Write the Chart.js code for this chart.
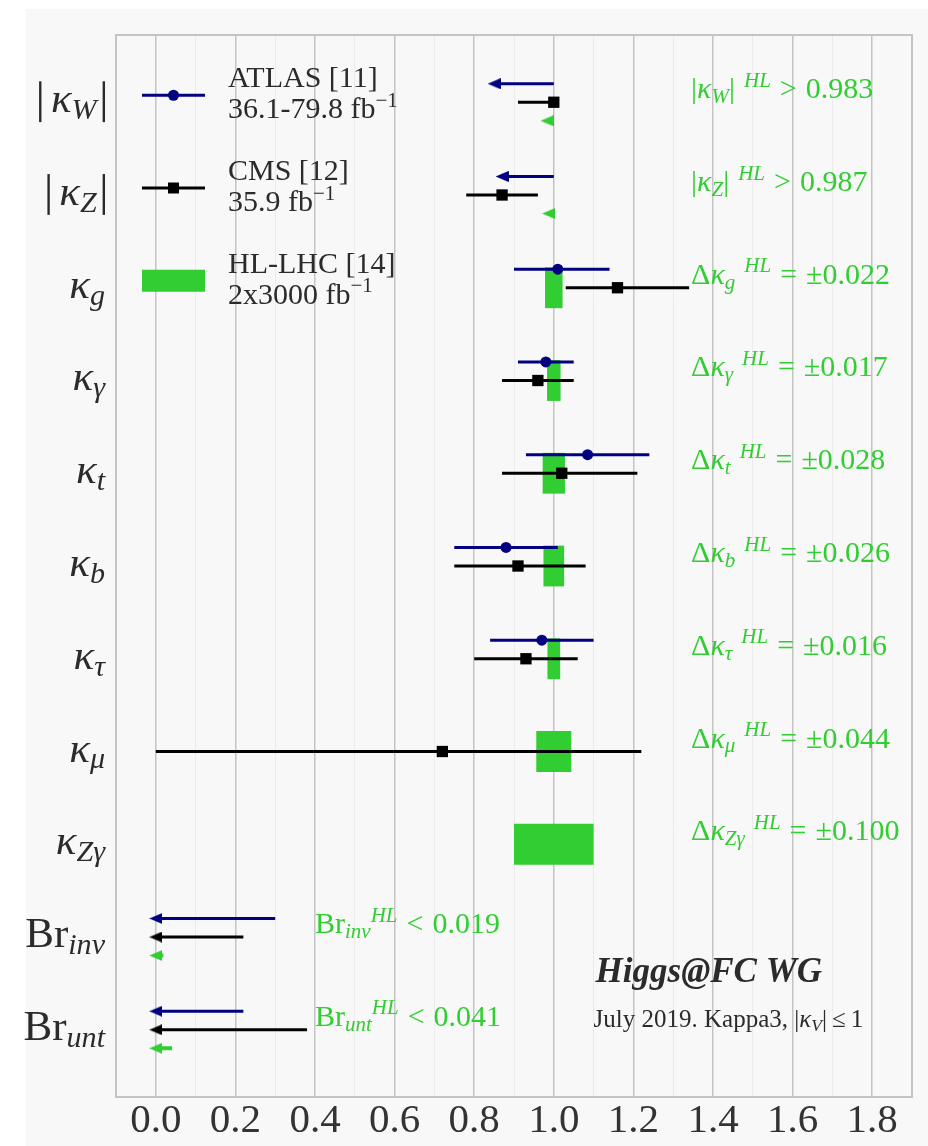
<!DOCTYPE html>
<html>
<head>
<meta charset="utf-8">
<script src="https://cdn.jsdelivr.net/npm/chart.js@4.4.1/dist/chart.umd.min.js"></script>
<style>
  html, body { margin: 0; padding: 0; background: #fff; }
</style>
</head>
<body>
<canvas id="kappa-chart" width="928" height="1146"></canvas>
<script>
// ====== DATA ======
const labelMain = ['κ', 'κ', 'κ', 'κ', 'κ', 'κ', 'κ', 'κ', 'κ', 'Br', 'Br'];
const labelSub = ['W', 'Z', 'g', 'γ', 't', 'b', 'τ', 'μ', 'Zγ', 'inv', 'unt'];
const labelAbs = [true, true, false, false, false, false, false, false, false, false, false];

// ATLAS [11]
const atlasCentral = [null, null, 1.01, 0.98, 1.085, 0.88, 0.97, null, null, null, null];
const atlasLow     = [null, null, 0.90, 0.91, 0.93, 0.75, 0.84, null, null, null, null];
const atlasHigh    = [null, null, 1.14, 1.05, 1.24, 1.01, 1.10, null, null, null, null];
const atlasLimitStart = [1.0, 1.0, null, null, null, null, null, null, null, 0.30, 0.22];
const atlasLimitEnd   = [0.85, 0.87, null, null, null, null, null, null, null, 0.0, 0.0];

// CMS [12]
const cmsCentral = [1.0, 0.87, 1.16, 0.96, 1.02, 0.91, 0.93, 0.72, null, null, null];
const cmsLow     = [0.91, 0.78, 1.03, 0.87, 0.87, 0.75, 0.80, 0.0, null, null, null];
const cmsHigh    = [1.0, 0.96, 1.34, 1.05, 1.21, 1.08, 1.06, 1.22, null, null, null];
const cmsLimitStart = [null, null, null, null, null, null, null, null, null, 0.22, 0.38];
const cmsLimitEnd   = [null, null, null, null, null, null, null, null, null, 0.0, 0.0];

// HL-LHC [14]
const hlCentral = [null, null, 1, 1, 1, 1, 1, 1, 1, null, null];
const hlError   = [null, null, 0.022, 0.017, 0.028, 0.026, 0.016, 0.044, 0.100, null, null];
const hlLimitStart = [1.0, 1.0, null, null, null, null, null, null, null, 0.019, 0.041];
const hlLimitEnd   = [0.983, 0.987, null, null, null, null, null, null, null, 0.0, 0.0];

const xMin = -0.1;
const xMax = 1.9;


// ====== STYLE ======
const FONT = '"Liberation Serif", "Times New Roman", serif';
const BLUE = '#000080';
const BLACK = '#000000';
const GREEN = '#32cd32';
const TEXT = '#2b2b2b';


// ====== HELPERS ======
function segments(starts, ends, offset) {
  const pts = [];
  starts.forEach((s, i) => {
    if (s === null || ends[i] === null) return;
    pts.push({ x: s, y: i + offset }, { x: ends[i], y: i + offset }, { x: null, y: null });
  });
  return pts;
}

function points(values, offset) {
  return values
    .map((v, i) => (v === null ? null : { x: v, y: i + offset }))
    .filter(Boolean);
}

function arrowHead(color) {
  const c = document.createElement('canvas');
  c.width = 13;
  c.height = 11;
  const g = c.getContext('2d');
  g.fillStyle = color;
  g.beginPath();
  g.moveTo(0, 5.5);
  g.lineTo(13, 0);
  g.lineTo(13, 11);
  g.closePath();
  g.fill();
  return c;
}

// draws text made of pieces: r = upright, i = italic, sub/sup = small shifted
function rich(ctx, x, y, parts, color, size, measureOnly) {
  let cx = x;
  ctx.fillStyle = color;
  parts.forEach(([txt, kind]) => {
    if (kind === 'barL' || kind === 'barR') {
      if (kind === 'barR') cx += size * 0.14;
      if (!measureOnly) ctx.fillRect(cx, y - size * 0.72, size * 0.055, size * 0.95);
      cx += size * 0.055 + (kind === 'barL' ? size * 0.22 : 0);
      return;
    }
    if (kind === 'gap') { cx += size * parseFloat(txt); return; }
    let fs = size, dy = 0, style = '';
    if (kind === 'i') style = 'italic ';
    else if (kind === 'sub') { fs = size * 0.7; dy = size * 0.16; style = 'italic '; }
    else if (kind === 'sup') { fs = size * 0.7; dy = -size * 0.38; style = 'italic '; }
    else if (kind === 'supr') { fs = size * 0.7; dy = -size * 0.38; }
    else if (kind === 'bi') style = 'italic bold ';
    ctx.font = style + fs.toFixed(1) + 'px ' + FONT;
    if (!measureOnly) ctx.fillText(txt, cx, y + dy);
    cx += ctx.measureText(txt).width;
  });
  return cx - x;
}

function hlParts(i) {
  if (i < 2) {
    return [['|', 'r'], ['κ', 'i'], [labelSub[i], 'sub'], ['|', 'r'], ['0.3', 'gap'],
            ['HL', 'sup'], ['0.3', 'gap'], ['>', 'r'], ['0.3', 'gap'],
            [hlLimitEnd[i].toFixed(3), 'r']];
  }
  if (i >= 9) {
    return [['Br', 'r'], [labelSub[i], 'sub'], ['HL', 'sup'], ['0.3', 'gap'], ['<', 'r'],
            ['0.3', 'gap'], [hlLimitStart[i].toFixed(3), 'r']];
  }
  return [['Δ', 'r'], ['κ', 'i'], [labelSub[i], 'sub'], ['0.3', 'gap'],
          ['HL', 'sup'], ['0.3', 'gap'], ['=', 'r'], ['0.3', 'gap'],
          ['±' + hlError[i].toFixed(3), 'r']];
}

const isMajor = (v) => Math.round(v * 10) % 2 === 0;


// ====== PLUGINS ======
const backgroundPlugin = {
  id: 'panel',
  beforeDraw(chart) {
    const ctx = chart.ctx;
    ctx.save();
    ctx.fillStyle = '#ffffff';
    ctx.fillRect(0, 0, chart.width, chart.height);
    ctx.fillStyle = '#f8f8f8';
    ctx.fillRect(26, 9, chart.width - 26, chart.height - 9);
    ctx.restore();
  },
  beforeDatasetsDraw(chart) {
    const { ctx, chartArea: a } = chart;
    ctx.save();
    ctx.strokeStyle = '#c4c4c4';
    ctx.lineWidth = 2;
    ctx.strokeRect(a.left, a.top, a.right - a.left, a.bottom - a.top);
    ctx.restore();
  }
};

const textPlugin = {
  id: 'texts',
  afterDraw(chart) {
    const ctx = chart.ctx;
    const xs = chart.scales.x;
    const ys = chart.scales.y;
    const area = chart.chartArea;
    ctx.save();
    ctx.textAlign = 'left';
    ctx.textBaseline = 'alphabetic';

    // row labels on the left
    labelMain.forEach((m, i) => {
      const yRow = ys.getPixelForValue(i);
      const parts = [];
      if (labelAbs[i]) parts.push(['', 'barL']);
      parts.push([m, m === 'Br' ? 'r' : 'i'], [labelSub[i], 'sub']);
      if (labelAbs[i]) parts.push(['', 'barR']);
      const w = rich(ctx, 0, 0, parts, TEXT, 43, true);
      rich(ctx, area.left - 11 - w, yRow + 10, parts, TEXT, 43);
    });

    // HL-LHC projections in green
    labelMain.forEach((m, i) => {
      const yRow = ys.getPixelForValue(i);
      const x = xs.getPixelForValue(i >= 9 ? 0.40 : 1.345);
      rich(ctx, x, yRow - 4, hlParts(i), GREEN, 30);
    });

    // legend
    const legendText = [
      ['ATLAS [11]', '36.1-79.8 fb'],
      ['CMS [12]', '35.9 fb'],
      ['HL-LHC [14]', '2x3000 fb']
    ];
    const x0 = area.left + 26;
    const x1 = area.left + 89;
    const xm = (x0 + x1) / 2;
    legendText.forEach((t, i) => {
      const yh = ys.getPixelForValue(i) - 7;
      if (i < 2) {
        ctx.strokeStyle = i === 0 ? BLUE : BLACK;
        ctx.lineWidth = 3;
        ctx.beginPath();
        ctx.moveTo(x0, yh);
        ctx.lineTo(x1, yh);
        ctx.stroke();
        ctx.fillStyle = i === 0 ? BLUE : BLACK;
        if (i === 0) {
          ctx.beginPath();
          ctx.arc(xm, yh, 5.5, 0, Math.PI * 2);
          ctx.fill();
        } else {
          ctx.fillRect(xm - 5.5, yh - 5.5, 11, 11);
        }
      } else {
        ctx.fillStyle = GREEN;
        ctx.fillRect(x0, yh - 11, x1 - x0, 22);
      }
      rich(ctx, area.left + 112, yh - 8, [[t[0], 'r']], TEXT, 30);
      rich(ctx, area.left + 112, yh + 23, [[t[1], 'r'], ['−1', 'supr']], TEXT, 30);
    });

    // credits
    const cx = xs.getPixelForValue(1.105);
    rich(ctx, cx, ys.getPixelForValue(9.49), [['Higgs@FC WG', 'bi']], TEXT, 35);
    rich(ctx, cx - 2, ys.getPixelForValue(9.97),
      [['July 2019. Kappa3, ', 'r'], ['|', 'r'], ['κ', 'i'], ['V', 'sub'], ['|', 'r'],
       ['0.2', 'gap'], ['≤', 'r'], ['0.2', 'gap'], ['1', 'r']], TEXT, 25);

    ctx.restore();
  }
};


// ====== CHART ======
const lineStyle = { type: 'line', showLine: true, pointRadius: 0, borderWidth: 3, tension: 0,
                    spanGaps: false, borderCapStyle: 'butt', order: 5 };

const chart = new Chart(document.getElementById('kappa-chart'), {
  type: 'scatter',
  data: {
    datasets: [
      {
        type: 'bar',
        indexAxis: 'y',
        data: hlError
          .map((e, i) => (e === null ? null : { x: [hlCentral[i] - e, hlCentral[i] + e], y: i }))
          .filter(Boolean),
        backgroundColor: GREEN,
        borderWidth: 0,
        barPercentage: 1,
        categoryPercentage: 0.44,
        order: 10
      },
      { ...lineStyle, data: segments(atlasLow, atlasHigh, -0.2), borderColor: BLUE },
      { ...lineStyle, data: segments(cmsLow, cmsHigh, 0), borderColor: BLACK },
      { ...lineStyle, data: segments(atlasLimitStart, atlasLimitEnd, -0.2), borderColor: BLUE },
      { ...lineStyle, data: segments(cmsLimitStart, cmsLimitEnd, 0), borderColor: BLACK },
      { ...lineStyle, data: segments(hlLimitStart, hlLimitEnd, 0.2), borderColor: GREEN, borderWidth: 4 },
      {
        type: 'line', showLine: false, data: points(atlasCentral, -0.2),
        pointStyle: 'circle', pointRadius: 5.5, pointBackgroundColor: BLUE,
        pointBorderWidth: 0, order: 1
      },
      {
        type: 'line', showLine: false, data: points(cmsCentral, 0),
        pointStyle: 'rect', pointRadius: 8, pointBackgroundColor: BLACK,
        pointBorderWidth: 0, order: 1
      },
      {
        type: 'line', showLine: false, data: points(atlasLimitEnd, -0.2),
        pointStyle: arrowHead(BLUE), pointRadius: 6, order: 1
      },
      {
        type: 'line', showLine: false, data: points(cmsLimitEnd, 0),
        pointStyle: arrowHead(BLACK), pointRadius: 6, order: 1
      },
      {
        type: 'line', showLine: false, data: points(hlLimitEnd, 0.2),
        pointStyle: arrowHead(GREEN), pointRadius: 6, order: 1
      }
    ]
  },
  options: {
    responsive: false,
    devicePixelRatio: 1,
    animation: false,
    events: [],
    layout: { padding: { left: 116, top: 35, right: 16, bottom: 0 } },
    plugins: {
      legend: { display: false },
      tooltip: { enabled: false }
    },
    scales: {
      x: {
        type: 'linear',
        min: xMin,
        max: xMax,
        ticks: {
          stepSize: 0.1,
          autoSkip: false,
          maxRotation: 0,
          minRotation: 0,
          padding: 0,
          color: '#333333',
          font: { family: FONT, size: 41 },
          callback: (v) => (isMajor(v) ? Number(v).toFixed(1) : '')
        },
        grid: {
          drawTicks: false,
          color: (c) => (c.tick && isMajor(c.tick.value) ? '#c4c4c4' : '#ebebeb'),
          lineWidth: (c) => (c.tick && isMajor(c.tick.value) ? 1.5 : 1)
        },
        border: { display: false },
        afterFit: (s) => { s.height = 49; }
      },
      y: {
        type: 'linear',
        display: false,
        reverse: true,
        offset: false,
        min: -0.725,
        max: labelMain.length - 1 + 0.725,
        grid: { offset: false },
        afterBuildTicks: (s) => { s.ticks = labelMain.map((_, i) => ({ value: i })); }
      }
    }
  },
  plugins: [backgroundPlugin, textPlugin]
});
</script>
</body>
</html>
